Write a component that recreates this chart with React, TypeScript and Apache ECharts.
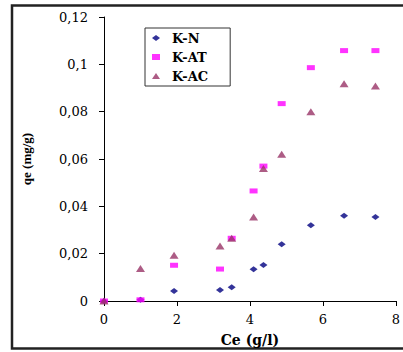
import React, { useEffect, useRef } from "react";
import * as echarts from "echarts";

const ce = [0, 1.0, 1.92, 3.18, 3.5, 4.1, 4.37, 4.87, 5.67, 6.58, 7.44];
const kN = [0, 0.0005, 0.0042, 0.0047, 0.0058, 0.0134, 0.0152, 0.024, 0.032, 0.036, 0.0355];
const kAT = [0, 0.0005, 0.0151, 0.0135, 0.0265, 0.0465, 0.057, 0.0834, 0.0986, 0.1058, 0.1058];
const kAC = [0, 0.0137, 0.0193, 0.0232, 0.0265, 0.0355, 0.056, 0.062, 0.08, 0.0918, 0.0908];
const seriesNames = ["K-N", "K-AT", "K-AC"];
const xName = "Ce (g/l)";
const yName = "qe (mg/g)";

const pairs = (ys: number[]) => ce.map((x, i) => [x, ys[i]]);

export default function App() {
  const ref = useRef<HTMLDivElement>(null);
  useEffect(() => {
    if (!ref.current) return;
    const chart = echarts.init(ref.current, undefined, { renderer: "svg" });
    const serif = "'DejaVu Serif', 'Liberation Serif', serif";
    chart.setOption({
      animation: false,
      backgroundColor: "#ffffff",
      graphic: [
        {
          type: "rect",
          shape: { x: 12, y: 5.5, width: 420, height: 343 },
          style: { fill: "none", stroke: "#222", lineWidth: 2.5 },
          silent: true,
        },
      ],
      grid: { left: 104, right: 2, top: 17, bottom: 51, containLabel: false },
      legend: {
        orient: "vertical",
        left: 145,
        top: 28,
        padding: [3, 22, 3, 7],
        itemGap: 5,
        itemWidth: 8,
        itemHeight: 6,
        borderColor: "#333",
        borderWidth: 1,
        backgroundColor: "#fff",
        textStyle: {
          fontFamily: serif,
          fontWeight: "bold",
          fontSize: 13,
          lineHeight: 14,
          color: "#000",
          padding: [0, 0, 0, 7],
        },
        data: [
          { name: seriesNames[0], icon: "diamond" },
          { name: seriesNames[1], icon: "rect" },
          { name: seriesNames[2], icon: "triangle" },
        ],
      },
      xAxis: {
        type: "value",
        min: 0,
        max: 8,
        interval: 2,
        name: xName,
        nameLocation: "middle",
        nameGap: 32,
        nameTextStyle: { fontFamily: serif, fontWeight: "bold", fontSize: 14, color: "#000" },
        axisLine: { lineStyle: { color: "#000", width: 1 } },
        axisTick: { show: true, inside: false, length: 5, lineStyle: { color: "#000" } },
        axisLabel: { margin: 12, fontFamily: serif, fontSize: 13, color: "#000" },
        splitLine: { show: false },
      },
      yAxis: {
        type: "value",
        min: 0,
        max: 0.12,
        interval: 0.02,
        name: yName,
        nameLocation: "middle",
        nameGap: 71,
        nameRotate: 90,
        nameTextStyle: { fontFamily: "'Liberation Serif', serif", fontWeight: "bold", fontSize: 13, color: "#000" },
        axisLine: { show: true, lineStyle: { color: "#000", width: 1 } },
        axisTick: { show: true, inside: false, length: 5, lineStyle: { color: "#000" } },
        axisLabel: {
          margin: 16,
          fontFamily: serif,
          fontSize: 13,
          color: "#000",
          formatter: (v: number) => (v === 0 ? "0" : String(+v.toFixed(2)).replace(".", ",")),
        },
        splitLine: { show: false },
      },
      series: [
        {
          name: seriesNames[0],
          type: "scatter",
          symbol: "diamond",
          symbolSize: [8, 6],
          itemStyle: { color: "#000080" },
          data: pairs(kN),
        },
        {
          name: seriesNames[1],
          type: "scatter",
          symbol: "rect",
          symbolSize: [8, 5],
          itemStyle: { color: "#FF00FF" },
          data: pairs(kAT),
        },
        {
          name: seriesNames[2],
          type: "scatter",
          symbol: "triangle",
          symbolSize: [9, 7],
          itemStyle: { color: "#993366" },
          data: pairs(kAC),
        },
      ],
    });
    return () => chart.dispose();
  }, []);
  return (
    <div
      ref={ref}
      style={{ position: "fixed", left: 0, top: 0, width: 403, height: 352, overflow: "hidden", background: "#fff" }}
    />
  );
}
